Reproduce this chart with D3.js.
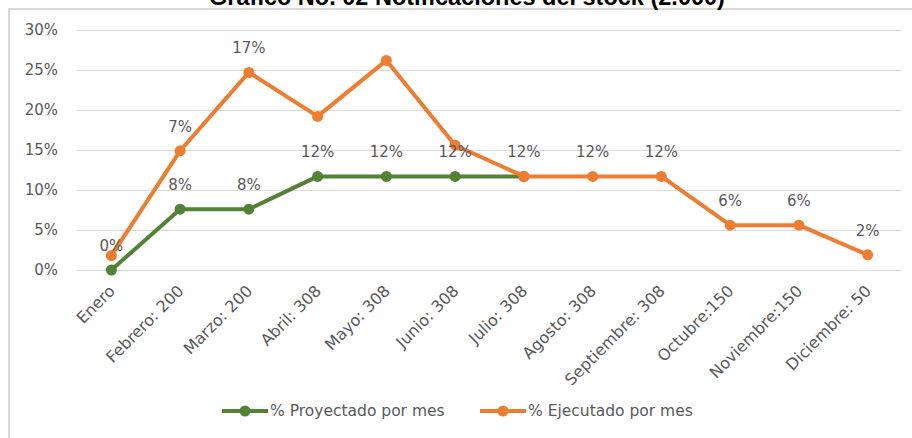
<!DOCTYPE html>
<html>
<head>
<meta charset="utf-8">
<script src="https://d3js.org/d3.v7.min.js"></script>
<style>
  body { margin:0; background:#fff; }
  .grid line { stroke:#d9d9d9; stroke-width:1; }
  .grid path { display:none; }
  .yAxis text, .xAxis text { fill:#595959; font-family:"DejaVu Sans", sans-serif; font-size:15px; }
  .xAxis text { font-size:16px; }
  .yAxis path, .yAxis line, .xAxis path, .xAxis line { display:none; }
</style>
</head>
<body>
<div id="Grafico"></div>
<script>
var titulo = "Gráfico No. 02 Notificaciones del stock (2.000)";
var meses = ["Enero", "Febrero: 200", "Marzo: 200", "Abril: 308", "Mayo: 308", "Junio: 308",
             "Julio: 308", "Agosto: 308", "Septiembre: 308", "Octubre:150", "Noviembre:150", "Diciembre: 50"];
// % proyectado (solo hasta julio)
var proyectado = [0, 7.6, 7.6, 11.7, 11.7, 11.7, 11.7];
var ejecutado  = [1.8, 14.9, 24.7, 19.2, 26.2, 15.6, 11.7, 11.7, 11.7, 5.6, 5.6, 1.9];
// etiquetas tal cual aparecen en el grafico
var etiqProyectado = ["0%", "8%", "8%", "12%", "12%", "12%", "12%"];
var etiqEjecutado  = [null, "7%", "17%", null, null, null, null, "12%", "12%", "6%", "6%", "2%"];
var yTicks = [0, 5, 10, 15, 20, 25, 30];
var series = [
  { nombre: "% Proyectado por mes", valores: proyectado, etiquetas: etiqProyectado, color: "#538135" },
  { nombre: "% Ejecutado por mes",  valores: ejecutado,  etiquetas: etiqEjecutado,  color: "#ed7d31" }
];

var W = 912, H = 438;
var margin = { top: 30, right: 10, bottom: 168, left: 77 },
    width = 902 - margin.left,
    height = H - margin.top - margin.bottom;

var svg = d3.select("#Grafico").append("svg")
    .attr("width", W).attr("height", H);

// marco del area del grafico
svg.append("path")
    .attr("d", "M9," + H + "V9H" + W)
    .attr("fill", "none").attr("stroke", "#d9d9d9").attr("stroke-width", 2);

// el titulo queda cortado arriba, como en el original
svg.append("text")
    .attr("x", 467).attr("y", 5)
    .attr("text-anchor", "middle")
    .style("font-family", "'Liberation Sans', Arial, sans-serif")
    .style("font-weight", "bold").style("font-size", "23.5px")
    .attr("fill", "#000")
    .text(titulo);

var g = svg.append("g").attr("transform", "translate(" + margin.left + "," + margin.top + ")");

var xScale = d3.scalePoint().domain(meses).range([0, width]).padding(0.5);
var yScale = d3.scaleLinear().domain([0, 30]).range([height, 0]);

g.append("g").classed("grid", true)
    .call(d3.axisLeft(yScale).tickValues(yTicks).tickSize(-width).tickFormat(""));

g.append("g").classed("yAxis", true)
    .call(d3.axisLeft(yScale).tickValues(yTicks).tickSize(0).tickPadding(19).tickFormat(function(d) { return d + "%"; }));

var xAxis = g.append("g").classed("xAxis", true)
    .attr("transform", "translate(0," + height + ")")
    .call(d3.axisBottom(xScale).tickSize(0));
xAxis.selectAll("text")
    .attr("text-anchor", "end")
    .attr("dy", "0.35em")
    .attr("transform", "translate(0,18) rotate(-45)")
    .attr("y", 0).attr("x", 0);

var linea = d3.line()
    .x(function(d, i) { return xScale(meses[i]); })
    .y(function(d) { return yScale(d); });

series.forEach(function(s) {
  g.append("path")
      .datum(s.valores)
      .attr("fill", "none")
      .attr("stroke", s.color)
      .attr("stroke-width", 4)
      .attr("stroke-linejoin", "round")
      .attr("d", linea);
  g.selectAll(null).data(s.valores).enter().append("circle")
      .attr("cx", function(d, i) { return xScale(meses[i]); })
      .attr("cy", function(d) { return yScale(d); })
      .attr("r", 5.5)
      .attr("fill", s.color);
});

// etiquetas de datos (encima de las lineas)
series.forEach(function(s) {
  var puntos = s.valores.map(function(v, i) { return { mes: meses[i], v: v, txt: s.etiquetas[i] }; })
                        .filter(function(p) { return p.txt != null; });
  g.selectAll(null).data(puntos).enter().append("text")
      .attr("x", function(p) { return xScale(p.mes); })
      .attr("y", function(p) { return yScale(p.v) - 19; })
      .attr("text-anchor", "middle")
      .style("font-family", "'DejaVu Sans', sans-serif").style("font-size", "15px")
      .attr("fill", "#595959")
      .text(function(p) { return p.txt; });
});

// leyenda
var leyenda = svg.append("g").attr("transform", "translate(0,411)");
var posLeyenda = [222, 480];
series.forEach(function(s, k) {
  var lg = leyenda.append("g").attr("transform", "translate(" + posLeyenda[k] + ",0)");
  lg.append("line").attr("x1", 0).attr("x2", 46).attr("y1", 0).attr("y2", 0)
      .attr("stroke", s.color).attr("stroke-width", 4);
  lg.append("circle").attr("cx", 23).attr("cy", 0).attr("r", 5.5).attr("fill", s.color);
  lg.append("text").attr("x", 48).attr("y", 0).attr("dy", "0.35em")
      .style("font-family", "'DejaVu Sans', sans-serif").style("font-size", "15.5px")
      .attr("fill", "#595959")
      .text(s.nombre);
});
</script>
</body>
</html>
